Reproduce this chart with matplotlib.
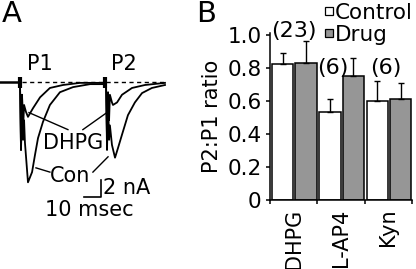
import numpy as np
import matplotlib
matplotlib.use("Agg")
import matplotlib.pyplot as plt
from matplotlib.patches import Rectangle

# ---- panel A: traces (time in ms, current in nA) ----
con_t = [0, 0.6, 1.2, 1.8, 2.4, 2.9, 4.7, 7.1, 8.8, 10.6, 13.5, 17.6, 23.5, 31.2, 41.2, 50,
         50.6, 51.2, 51.8, 52.4, 52.9, 54.1, 55.9, 57.6, 60, 63.5, 67.6, 71.8, 77.6, 85.3]
con_i = [0, -8.0, -1.5, -6.8, -4.5, -7.1, -11.8, -10.6, -8.6, -6.6, -4.7, -2.7, -1.2, -0.6, -0.25, -0.25,
         0, -8.0, -2.1, -6.8, -5.1, -7.4, -8.9, -7.8, -6.2, -3.9, -2.4, -1.3, -0.7, -0.35]
dhpg_t = [0, 0.6, 1.2, 1.8, 2.4, 3.5, 4.7, 7.6, 11.8, 17.6, 25.3, 35.3, 50,
          50.6, 51.2, 51.8, 52.4, 52.9, 54.1, 54.7, 57.1, 60, 65.9, 73.5, 85.3]
dhpg_i = [0, -8.0, -1.5, -5.6, -2.7, -3.5, -4.1, -3.1, -1.8, -0.7, -0.35, -0.1, -0.1,
          0, -6.8, -1.2, -4.5, -1.5, -2.4, -2.7, -2.4, -1.5, -0.7, -0.35, -0.1]
stim_t = [0, 50]

# ---- panel B: bar data ----
groups = ["DHPG", "L-AP4", "Kyn"]
control = [0.82, 0.53, 0.60]
control_err = [0.07, 0.08, 0.12]
drug = [0.83, 0.75, 0.61]
drug_err = [0.13, 0.11, 0.10]
counts = ["(23)", "(6)", "(6)"]
count_pos = [(0.5, 1.02), (1.33, 0.80), (2.45, 0.80)]
legend_labels = ["Control", "Drug"]
legend_colors = ["white", "#969696"]

W, H = 416, 269
fig = plt.figure(figsize=(W / 100, H / 100), dpi=100)

# panel A
axa = fig.add_axes([0, 0, 0.5, 1])
axa.set_xlim(-11.76, 110.6)
axa.set_ylim(-22.0, 9.65)
axa.axis("off")
lw = 1.3
axa.plot([-11.8, 0], [0, 0], color="black", lw=1.8)
axa.plot([1.2, 86], [0, 0], color="black", lw=1.0, ls=(0, (3, 2.5)))
axa.plot(con_t, con_i, color="black", lw=lw)
axa.plot(dhpg_t, dhpg_i, color="black", lw=lw)
axa.vlines(stim_t, -0.7, 0.6, color="black", lw=3)

# pointer lines
axa.plot([28.2, 5.3], [-5.6, -3.6], color="black", lw=1.0)
axa.plot([37.0, 51.8], [-5.6, -3.5], color="black", lw=1.0)
axa.plot([9.4, 17.6], [-10.1, -10.6], color="black", lw=1.0)
axa.plot([42.9, 51.8], [-10.6, -8.8], color="black", lw=1.0)

# scale bar: 10 msec x 2 nA
axa.plot([37.5, 47.5, 47.5], [-13.5, -13.5, -11.5], color="black", lw=1.2)

fs = 15
axa.text(11.8, 2.1, "P1", fontsize=fs, ha="center", va="center")
axa.text(61.2, 2.1, "P2", fontsize=fs, ha="center", va="center")
axa.text(31.2, -7.2, "DHPG", fontsize=fs, ha="center", va="center")
axa.text(29.4, -11.1, "Con", fontsize=fs, ha="center", va="center")
axa.text(49.0, -12.5, "2 nA", fontsize=fs, ha="left", va="center")
axa.text(40.6, -15.1, "10 msec", fontsize=fs, ha="center", va="center")

fig.text(2 / W, 1 - 0 / H, "A", fontsize=21, ha="left", va="top")
fig.text(196 / W, 1 - 0 / H, "B", fontsize=21, ha="left", va="top")

# panel B
axb = fig.add_axes([270 / W, 1 - 200 / H, 142 / W, 167 / H])
x = np.arange(len(groups))
bw = 0.45
ekw = dict(lw=1.0, capsize=2, capthick=1.0)
axb.bar(x + 0.27, control, bw, color="white", edgecolor="black", lw=1.1)
axb.bar(x + 0.76, drug, bw, color="#969696", edgecolor="black", lw=1.1)
axb.errorbar(x + 0.27, control, yerr=[np.zeros(3), control_err], fmt="none",
             ecolor="black", **ekw)
axb.errorbar(x + 0.76, drug, yerr=[np.zeros(3), drug_err], fmt="none",
             ecolor="black", **ekw)
for lab, (px, py) in zip(counts, count_pos):
    axb.text(px, py, lab, fontsize=16, ha="center", va="center")

axb.set_xlim(0, 3)
axb.set_ylim(0, 1.01)
axb.set_yticks([0, 0.2, 0.4, 0.6, 0.8, 1.0])
axb.set_yticklabels(["0", "0.2", "0.4", "0.6", "0.8", "1.0"], fontsize=15.5)
axb.set_xticks([0, 1, 2, 3])
axb.set_xticklabels([])
axb.set_xticks(x + 0.5, minor=True)
axb.set_xticklabels(groups, minor=True, rotation=90, fontsize=15)
axb.tick_params(axis="x", which="minor", length=0, pad=6)
axb.tick_params(axis="both", which="major", length=3, width=1.1, direction="out")
axb.tick_params(axis="y", pad=3)
axb.set_ylabel("P2:P1 ratio", fontsize=15, labelpad=4)
for s in ["top", "right"]:
    axb.spines[s].set_visible(False)
for s in ["left", "bottom"]:
    axb.spines[s].set_linewidth(1.1)

# legend drawn by hand (tight line spacing as in the figure)
for k, (lab, col) in enumerate(zip(legend_labels, legend_colors)):
    yc = 1 - (11 + 22 * k) / H
    fig.patches.append(Rectangle((325 / W, yc - 4 / H), 8 / W, 8 / H,
                                 transform=fig.transFigure, facecolor=col,
                                 edgecolor="black", lw=0.9))
    fig.text(335 / W, yc, lab, fontsize=15.5, ha="left", va="center_baseline")

fig.savefig("out.png", dpi=100)
